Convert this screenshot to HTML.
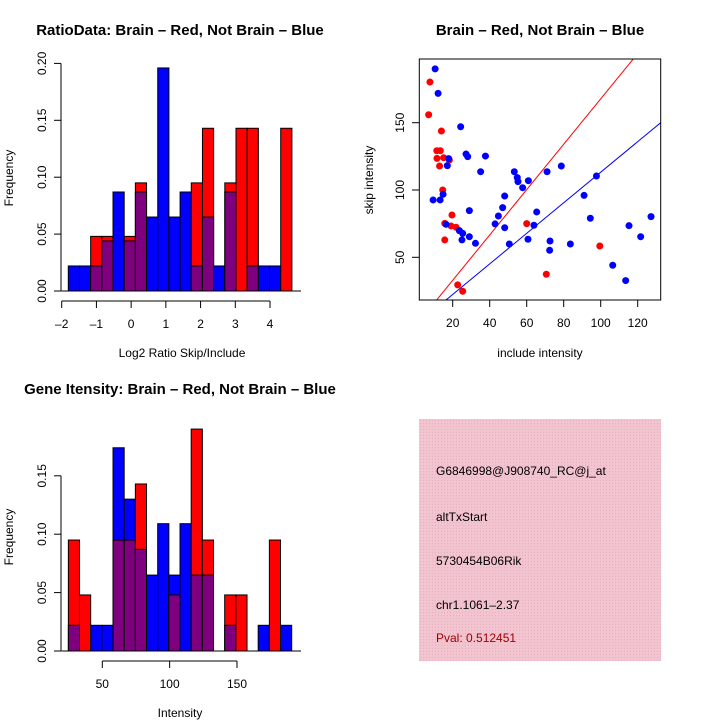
<!DOCTYPE html>
<html><head><meta charset="utf-8"><style>
body{margin:0;background:#fff}
svg{display:block;font-family:"Liberation Sans",Arial,sans-serif}
</style></head><body>
<svg id="s" width="720" height="720" viewBox="0 0 720 720">
<rect width="720" height="720" fill="#fff"/>
<text x="180" y="35" text-anchor="middle" font-size="15" font-weight="bold">RatioData: Brain – Red, Not Brain – Blue</text>
<text x="540" y="35" text-anchor="middle" font-size="15" font-weight="bold">Brain – Red, Not Brain – Blue</text>
<text x="180" y="394" text-anchor="middle" font-size="15" font-weight="bold">Gene Itensity: Brain – Red, Not Brain – Blue</text>
<text x="182" y="357" text-anchor="middle" font-size="12">Log2 Ratio Skip/Include</text>
<text x="13" y="178" text-anchor="middle" font-size="12" transform="rotate(-90 13 178)">Frequency</text>
<text x="180" y="717" text-anchor="middle" font-size="12">Intensity</text>
<text x="13" y="537" text-anchor="middle" font-size="12" transform="rotate(-90 13 537)">Frequency</text>
<text x="540" y="357" text-anchor="middle" font-size="12">include intensity</text>
<text x="373" y="180" text-anchor="middle" font-size="12" transform="rotate(-90 373 180)">skip intensity</text>
<defs><pattern id="hatch" width="3" height="3" patternUnits="userSpaceOnUse"><rect width="3" height="3" fill="#f2c4cf"/><rect width="1" height="1" fill="#e8b0bf"/></pattern></defs>
<rect x="419" y="419" width="242" height="242" fill="url(#hatch)"/>
<g font-size="12">
<text x="436" y="475">G6846998@J908740_RC@j_at</text>
<text x="436" y="521">altTxStart</text>
<text x="436" y="565">5730454B06Rik</text>
<text x="436" y="609">chr1.1061–2.37</text>
<text x="436" y="642" fill="#a00000">Pval: 0.512451</text>
</g>
</svg>
<script>
// Ratio histogram data
const ratioStart = -1.81, ratioWidth = 0.322;
const ratioBlue = [0.022,0.022,0.022,0.044,0.087,0.044,0.087,0.065,0.196,0.065,0.087,0.022,0.065,0.022,0.087,0,0.022,0.022,0.022,0];
const ratioRed  = [0,0,0.048,0.048,0,0.048,0.095,0,0,0,0,0.095,0.143,0,0.095,0.143,0.143,0,0,0.143];
const ratioXTicks = [-2,-1,0,1,2,3,4];
const ratioYTicks = [0,0.05,0.10,0.15,0.20];
// Intensity histogram data
const intStart = 24.8, intWidth = 8.29;
const intBlue = [0.022,0,0.022,0.022,0.174,0.130,0.087,0.065,0.109,0.065,0.109,0.065,0.065,0,0.022,0,0,0.022,0,0.022];
const intRed  = [0.095,0.048,0,0,0.095,0.095,0.143,0,0,0.048,0,0.19,0.095,0,0.048,0.048,0,0,0.095,0];
const intXTicks = [50,100,150];
const intYTicks = [0,0.05,0.10,0.15];
// Scatter data
const blueX = [10.5,12.1,9.4,13.2,14.8,17.1,17.8,16.4,24.3,27.2,28.1,37.7,35.1,23.6,25.4,25,29,29,32.3,42.9,44.7,47,48.1,48.1,50.6,53.3,54.9,55.3,57.8,60.9,60.7,63.9,65.4,71,72.6,72.4,78.7,83.6,91,94.4,97.7,106.5,113.5,115.3,121.6,127.2];
const blueY = [190,171.8,92.6,92.6,96.8,118.1,123.3,74.5,147,126.7,124.8,125.2,113.6,69.8,67.8,62.9,84.7,65.3,60.4,74.8,80.7,86.9,95.5,72,59.9,113.6,109.2,106.2,101.7,106.9,63.4,73.8,83.7,113.6,62.1,55.2,117.8,59.9,96,79,110.4,44.1,32.7,73.5,65.3,80.2];
const redX = [7.7,7,13.9,11.4,13.3,11.5,15.1,12.9,18.2,14.6,19.6,15.7,19.1,21.8,15.7,22.7,25.4,60,70.6,99.5];
const redY = [180.2,155.9,143.8,129.2,129.2,123.5,124,117.8,122.3,100,81.4,75.2,73.3,72.3,62.9,29.5,24.8,75,37.4,58.4];
const redSlope = 1.685, redIntercept = -0.8;
const blueSlope = 1.135, blueIntercept = -0.3;
const scXTicks = [20,40,60,80,100,120];
const scYTicks = [50,100,150];

const svg = document.getElementById('s');
const NS = 'http://www.w3.org/2000/svg';
function mk(tag, attrs, parent){const e=document.createElementNS(NS,tag);for(const k in attrs)e.setAttribute(k,attrs[k]);(parent||svg).appendChild(e);return e;}

function hist(cfg){
  const g = mk('g',{});
  
  
  const bw = cfg.width*cfg.xs;
  for(let i=0;i<cfg.blue.length;i++){
    const b=cfg.blue[i], r=cfg.red[i];
    const x0 = cfg.x(cfg.start + i*cfg.width);
    const top = Math.max(b,r), lo = Math.min(b,r);
    if(top<=0) continue;
    const col = r>b ? '#ff0000' : '#0000ff';
    const rc = mk('rect',{x:x0,y:cfg.y(top),width:bw,height:cfg.y(0)-cfg.y(top),fill:col,stroke:'#000','stroke-width':1},g);
    
    
    if(lo>0){
      const pr = mk('rect',{x:x0,y:cfg.y(lo),width:bw,height:cfg.y(0)-cfg.y(lo),fill:'#7f007f',stroke:'#000','stroke-width':1},g);
      
      
    }
  }
  mk('line',{x1:cfg.x(cfg.start)-7,x2:301,y1:cfg.y(0),y2:cfg.y(0),stroke:'#000'},g);
  const ya = mk('g',{},g);
  
  
  const yt=cfg.yticks;
  mk('line',{x1:61,x2:61,y1:cfg.y(yt[0]),y2:cfg.y(yt[yt.length-1]),stroke:'#000'},ya);
  yt.forEach(v=>{
    mk('line',{x1:54,x2:61,y1:cfg.y(v),y2:cfg.y(v),stroke:'#000'},ya);
    const t=mk('text',{x:46,y:cfg.y(v),'font-size':12,'text-anchor':'middle',transform:`rotate(-90 46 ${cfg.y(v)})`},ya);
    t.textContent=v.toFixed(2);
  });
  const xa = mk('g',{},g);
  
  
  const xt=cfg.xticks, ay=cfg.axisY;
  mk('line',{x1:cfg.x(xt[0]),x2:cfg.x(xt[xt.length-1]),y1:ay,y2:ay,stroke:'#000'},xa);
  xt.forEach(v=>{
    mk('line',{x1:cfg.x(v),x2:cfg.x(v),y1:ay,y2:ay+7,stroke:'#000'},xa);
    const t=mk('text',{x:cfg.x(v),y:ay+27,'font-size':12,'text-anchor':'middle'},xa);
    t.textContent=String(v).replace('-','–');
  });
}
hist({name:'ratio-histogram',blue:ratioBlue,red:ratioRed,start:ratioStart,width:ratioWidth,
  xs:34.72,x:v=>61.7+(v+2)*34.72,y:v=>291-v*1138,yticks:ratioYTicks,xticks:ratioXTicks,axisY:301});
hist({name:'intensity-histogram',blue:intBlue,red:intRed,start:intStart,width:intWidth,
  xs:1.347,x:v=>102.3+(v-50)*1.347,y:v=>651-v*1168,yticks:intYTicks,xticks:intXTicks,axisY:661});

// scatter
const sx=v=>452.7+(v-20)*1.85, sy=v=>257.3-(v-50)*1.346;
const sc=mk('g',{});


mk('clipPath',{id:'clp'},sc).appendChild((()=>{const r=document.createElementNS(NS,'rect');r.setAttribute('x',419.3);r.setAttribute('y',59);r.setAttribute('width',241.4);r.setAttribute('height',241);return r;})());
const lg=mk('g',{'clip-path':'url(#clp)'},sc);
[[redSlope,redIntercept,'#ff0000','red-fit-line'],[blueSlope,blueIntercept,'#0000ff','blue-fit-line']].forEach(([m,b,c,n])=>{
  const l=mk('line',{x1:sx(0),y1:sy(b),x2:sx(140),y2:sy(m*140+b),stroke:c,'stroke-width':1},lg);
  
  
});
redX.forEach((v,i)=>{
  const c=mk('circle',{cx:sx(v),cy:sy(redY[i]),r:3.5,fill:'#ff0000'},sc);
  
  
});
blueX.forEach((v,i)=>{
  const c=mk('circle',{cx:sx(v),cy:sy(blueY[i]),r:3.5,fill:'#0000ff'},sc);
  
  
});
const box=mk('rect',{x:419.3,y:59,width:241.4,height:241,fill:'none',stroke:'#000'},sc);


scXTicks.forEach(v=>{
  mk('line',{x1:sx(v),x2:sx(v),y1:300,y2:307,stroke:'#000'},sc);
  const t=mk('text',{x:sx(v),y:327,'font-size':12,'text-anchor':'middle'},sc);
  t.textContent=v;
});
scYTicks.forEach(v=>{
  mk('line',{x1:412,x2:419.3,y1:sy(v),y2:sy(v),stroke:'#000'},sc);
  const t=mk('text',{x:404,y:sy(v),'font-size':12,'text-anchor':'middle',transform:`rotate(-90 404 ${sy(v)})`},sc);
  t.textContent=v;
});
</script>
</body></html>
